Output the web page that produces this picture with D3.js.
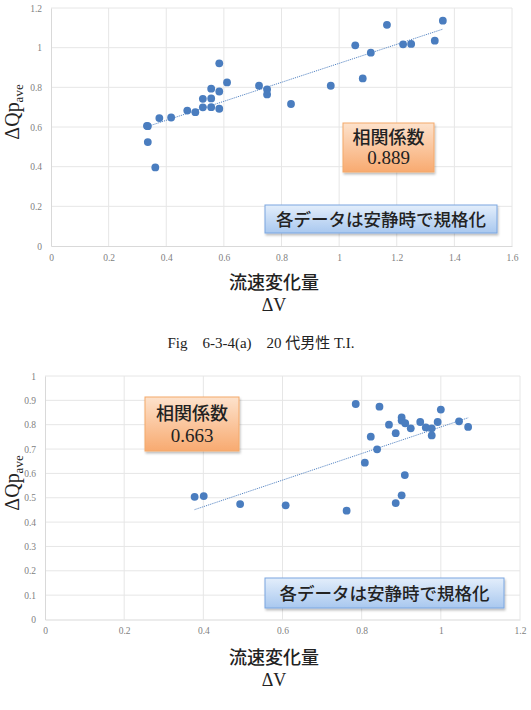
<!DOCTYPE html>
<html>
<head>
<meta charset="utf-8">
<script src="https://cdn.jsdelivr.net/npm/d3@7"></script>
<style>
  body { margin: 0; background: #fff; }
  svg { display: block; }
</style>
</head>
<body>
<svg width="531" height="710"></svg>
<script>
// chart (a): 20代男性 T.I.
var dv1 = [0.333, 0.336, 0.336, 0.362, 0.376, 0.417, 0.473, 0.501, 0.527, 0.556, 0.584,
           0.527, 0.556, 0.556, 0.584, 0.584, 0.611, 0.722, 0.750, 0.750, 0.833, 0.971,
           1.056, 1.082, 1.110, 1.166, 1.222, 1.250, 1.332, 1.360];
var dq1 = [0.606, 0.604, 0.524, 0.396, 0.645, 0.648, 0.683, 0.675, 0.699, 0.700, 0.692,
           0.742, 0.744, 0.793, 0.779, 0.921, 0.825, 0.808, 0.789, 0.764, 0.716, 0.808,
           1.012, 0.845, 0.975, 1.115, 1.017, 1.019, 1.035, 1.136];
var xticks1 = [0, 0.2, 0.4, 0.6, 0.8, 1, 1.2, 1.4, 1.6];
var yticks1 = [0, 0.2, 0.4, 0.6, 0.8, 1, 1.2];
var r1 = "0.889";

// chart (b)
var dv2 = [0.378, 0.401, 0.493, 0.608, 0.762, 0.785, 0.808, 0.823, 0.839, 0.845, 0.869,
           0.886, 0.886, 0.901, 0.901, 0.901, 0.909, 0.910, 0.924, 0.948, 0.962, 0.977,
           0.977, 0.992, 1.000, 1.046, 1.069];
var dq2 = [0.504, 0.507, 0.474, 0.469, 0.447, 0.885, 0.644, 0.751, 0.699, 0.874, 0.800,
           0.765, 0.478, 0.830, 0.817, 0.510, 0.593, 0.806, 0.785, 0.811, 0.789, 0.785,
           0.756, 0.811, 0.862, 0.814, 0.791];
var xticks2 = [0, 0.2, 0.4, 0.6, 0.8, 1, 1.2];
var yticks2 = [0, 0.1, 0.2, 0.3, 0.4, 0.5, 0.6, 0.7, 0.8, 0.9, 1];
var r2 = "0.663";

var note = "各データは安静時で規格化";
var caption = "Fig\u30006-3-4(a)\u300020 代男性 T.I.";

var dotColor = "#4a7dbf";
var serif = "'Liberation Serif', 'DejaVu Serif', serif";
var jp = "'Noto Sans CJK JP', sans-serif";

svg = d3.select("svg");

// gradients + shadow for the callout boxes
defs = svg.append("defs");
og = defs.append("linearGradient").attr("id", "orangeGrad").attr("x1", 0).attr("y1", 0).attr("x2", 0).attr("y2", 1);
og.append("stop").attr("offset", "0%").attr("stop-color", "#fde2cc");
og.append("stop").attr("offset", "100%").attr("stop-color", "#f8aa70");
bg = defs.append("linearGradient").attr("id", "blueGrad").attr("x1", 0).attr("y1", 0).attr("x2", 0).attr("y2", 1);
bg.append("stop").attr("offset", "0%").attr("stop-color", "#e3eefb");
bg.append("stop").attr("offset", "100%").attr("stop-color", "#a9c8ef");
defs.append("filter").attr("id", "shadow").attr("x", "-10%").attr("y", "-10%").attr("width", "130%").attr("height", "140%")
  .append("feDropShadow").attr("dx", 1).attr("dy", 2).attr("stdDeviation", 1.2).attr("flood-color", "#000").attr("flood-opacity", 0.25);

function fmt(v) { return d3.format("~g")(+v.toFixed(2)); }

// least squares line for the trend
function fit(xs, ys) {
    mx = d3.mean(xs); my = d3.mean(ys);
    num = d3.sum(xs, function(x, i) { return (x - mx) * (ys[i] - my); });
    den = d3.sum(xs, function(x) { return (x - mx) * (x - mx); });
    b = num / den;
    return { a: my - b * mx, b: b };
}

function drawScatter(c) {
    xScale = d3.scaleLinear().domain(c.xdom).range(c.xr);
    yScale = d3.scaleLinear().domain(c.ydom).range(c.yr);
    g = svg.append("g");

    // gridlines
    g.selectAll(".vg").data(c.xticks.slice(1)).enter().append("line")
      .attr("x1", function(d) { return xScale(d); }).attr("x2", function(d) { return xScale(d); })
      .attr("y1", c.yr[0]).attr("y2", c.yr[1])
      .attr("stroke", "#e6e6e6").attr("stroke-width", 1);
    g.selectAll(".hg").data(c.yticks.slice(1)).enter().append("line")
      .attr("x1", c.xr[0]).attr("x2", c.xr[1])
      .attr("y1", function(d) { return yScale(d); }).attr("y2", function(d) { return yScale(d); })
      .attr("stroke", "#e6e6e6").attr("stroke-width", 1);

    // axes (Excel style: faint lines, no ticks)
    xAxis = d3.axisBottom(xScale).tickValues(c.xticks).tickFormat(fmt).tickSize(0).tickPadding(8);
    yAxis = d3.axisLeft(yScale).tickValues(c.yticks).tickFormat(fmt).tickSize(0).tickPadding(c.ypad);
    ax = g.append("g").attr("transform", "translate(0," + c.yr[0] + ")").call(xAxis);
    ay = g.append("g").attr("transform", "translate(" + c.xr[0] + ",0)").call(yAxis);
    [ax, ay].forEach(function(a) {
        a.select(".domain").attr("stroke", "#d9d9d9");
        a.selectAll("text").attr("font-family", serif).attr("font-size", 9.5).attr("fill", "#7f7f7f");
    });

    // trendline
    f = fit(c.xs, c.ys);
    x0 = d3.min(c.xs); x1 = d3.max(c.xs);
    g.append("line")
      .attr("x1", xScale(x0)).attr("y1", yScale(f.a + f.b * x0))
      .attr("x2", xScale(x1)).attr("y2", yScale(f.a + f.b * x1))
      .attr("stroke", dotColor).attr("stroke-width", 1).attr("stroke-dasharray", "1,1");

    // points
    g.selectAll(".pt").data(c.xs).enter().append("circle")
      .attr("cx", function(d) { return xScale(d); })
      .attr("cy", function(d, i) { return yScale(c.ys[i]); })
      .attr("r", 3.9).attr("fill", dotColor);

    // correlation box
    ob = c.obox;
    g.append("rect").attr("x", ob[0]).attr("y", ob[1]).attr("width", ob[2]).attr("height", ob[3])
      .attr("fill", "url(#orangeGrad)").attr("stroke", "#f4a96a").attr("stroke-width", 1)
      .attr("filter", "url(#shadow)");
    g.append("text").attr("x", ob[0] + ob[2] / 2).attr("y", ob[1] + ob[3] * 0.42)
      .attr("text-anchor", "middle").attr("font-family", jp).attr("font-size", 18).attr("font-weight", 500).attr("fill", "#222")
      .text("相関係数");
    g.append("text").attr("x", ob[0] + ob[2] / 2).attr("y", ob[1] + ob[3] * 0.84)
      .attr("text-anchor", "middle").attr("font-family", serif).attr("font-size", 19).attr("fill", "#222")
      .text(c.r);

    // note box
    nb = c.nbox;
    g.append("rect").attr("x", nb[0]).attr("y", nb[1]).attr("width", nb[2]).attr("height", nb[3])
      .attr("fill", "url(#blueGrad)").attr("stroke", "#7aa6e0").attr("stroke-width", 1)
      .attr("filter", "url(#shadow)");
    g.append("text").attr("x", nb[0] + nb[2] / 2).attr("y", nb[1] + nb[3] / 2 + 6.5)
      .attr("text-anchor", "middle").attr("font-family", jp).attr("font-size", 17.5).attr("font-weight", 500).attr("fill", "#222")
      .text(note);

    // axis titles
    g.append("text").attr("x", 274).attr("y", c.xt)
      .attr("text-anchor", "middle").attr("font-family", jp).attr("font-size", 18).attr("font-weight", 500).attr("fill", "#222")
      .text("流速変化量");
    g.append("text").attr("x", 274).attr("y", c.xt + 22)
      .attr("text-anchor", "middle").attr("font-family", serif).attr("font-size", 18).attr("fill", "#222")
      .text("ΔV");
    yl = g.append("text").attr("transform", "translate(" + c.yt[0] + "," + c.yt[1] + ") rotate(-90)")
      .attr("text-anchor", "middle").attr("font-family", serif).attr("font-size", 20).attr("fill", "#222");
    yl.append("tspan").text("ΔQp");
    yl.append("tspan").attr("font-size", 13).attr("dy", 4).text("ave");
}

drawScatter({
    xs: dv1, ys: dq1, xticks: xticks1, yticks: yticks1, r: r1,
    xdom: [0, 1.6], ydom: [0, 1.2], xr: [51, 512], yr: [246, 8], ypad: 9,
    obox: [343, 123, 91, 49], nbox: [265, 205, 232, 28],
    xt: 289, yt: [19, 112]
});

svg.append("text").attr("x", 261).attr("y", 348)
  .attr("text-anchor", "middle").attr("font-family", serif + ", 'Noto Sans CJK JP'").attr("font-size", 15).attr("fill", "#222")
  .text(caption);

drawScatter({
    xs: dv2, ys: dq2, xticks: xticks2, yticks: yticks2, r: r2,
    xdom: [0, 1.2], ydom: [0, 1], xr: [45, 520], yr: [619.5, 376], ypad: 9,
    obox: [145, 397, 94, 54], nbox: [265, 578, 239, 30],
    xt: 664, yt: [19, 483]
});
</script>
</body>
</html>
